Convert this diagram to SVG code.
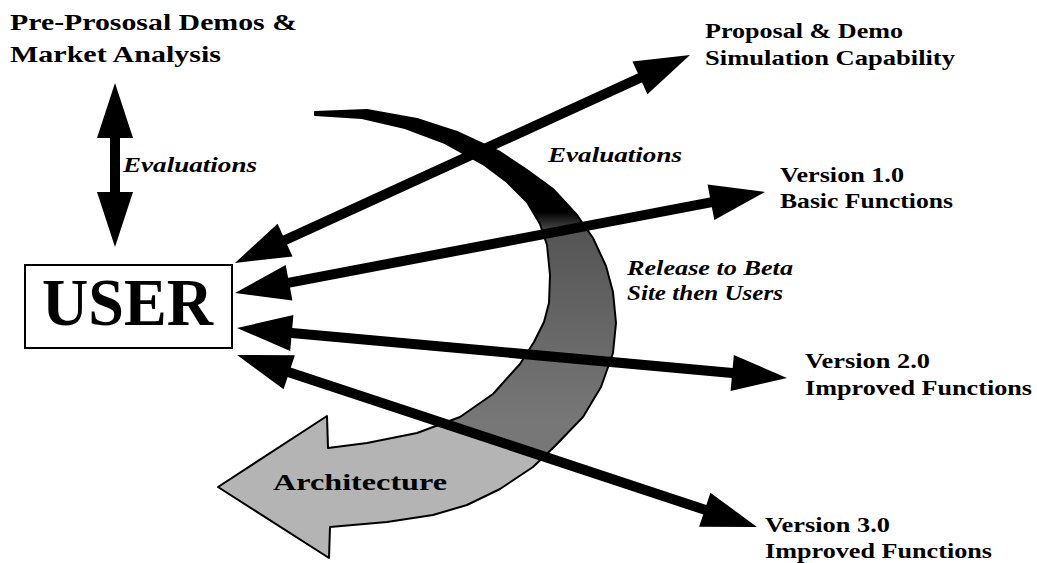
<svg xmlns="http://www.w3.org/2000/svg" width="1037" height="563" viewBox="0 0 1037 563">
<style>
.lbl{font-family:"Liberation Serif","Times New Roman",serif;font-weight:bold;font-size:21px;fill:#000}
.big{font-family:"Liberation Serif","Times New Roman",serif;font-weight:bold;font-size:23px;fill:#000}
.it{font-family:"Liberation Serif","Times New Roman",serif;font-weight:bold;font-style:italic;font-size:22px;fill:#000}
.shaft{stroke:#000;stroke-width:10;fill:none;marker-start:url(#head);marker-end:url(#head)}
</style>
<defs>
<marker id="head" markerUnits="userSpaceOnUse" markerWidth="60" markerHeight="40" viewBox="0 -20 56 40" refX="25" refY="0" orient="auto-start-reverse">
<path d="M0,-18 L55,0 L0,18 Z" fill="#000"/>
</marker>
<linearGradient id="dark" gradientUnits="userSpaceOnUse" x1="0" y1="212" x2="0" y2="420">
<stop offset="0" stop-color="#000"/>
<stop offset="0.1" stop-color="#555"/>
<stop offset="1" stop-color="#777"/>
</linearGradient>
<clipPath id="upper">
<polygon points="0,0 1037,0 1037,620 0,277"/>
</clipPath>
<path id="archShape" d="M315,112 L367,110 L417,119 L457,132 L500,152 L527,170 L553,189 L577,215 L593,238 L606,266 L613,292 L616,323 L613,353 L601,387 L583,417 L555,446 L533,467 L500,489 L467,505 L433,515 L387,522 L330,527 L329,558 L218,487 L327,416 L328,448 L367,443 L417,433 L460,417 L493,394 L520,364 L534,342 L544,322 L549,303 L550,275 L547,245 L540,224 L527,202 L507,182 L483,164 L445,143 L405,128 L362,118 L315,115 Z"/>
</defs>

<g id="architecture">
<use href="#archShape" fill="#b4b4b4"/>
<use href="#archShape" fill="url(#dark)" clip-path="url(#upper)"/>
<use href="#archShape" fill="none" stroke="#000" stroke-width="2" stroke-linejoin="round"/>
<text class="big" x="273" y="490" font-size="30" textLength="174" lengthAdjust="spacingAndGlyphs">Architecture</text>
</g>

<g id="connectors">
<line class="shaft" x1="115" y1="113" x2="115" y2="217"/>
<line class="shaft" x1="262.3" y1="250.5" x2="662.7" y2="67.5"/>
<line class="shaft" x1="264.5" y1="287.4" x2="735.5" y2="197.6"/>
<line class="shaft" x1="266.9" y1="330.7" x2="757.1" y2="375.3"/>
<line class="shaft" x1="265.5" y1="364.4" x2="728.5" y2="517.6"/>
</g>

<g id="user">
<rect x="25" y="265" width="207" height="83" fill="#fff" stroke="#000" stroke-width="2"/>
<text x="42" y="325" font-family="'Liberation Serif','Times New Roman',serif" font-weight="bold" font-size="68" textLength="171" lengthAdjust="spacingAndGlyphs">USER</text>
</g>

<g id="premarket">
<text class="big" x="10" y="30" textLength="287" lengthAdjust="spacingAndGlyphs">Pre-Prososal Demos &amp;</text>
<text class="big" x="10" y="62" textLength="211" lengthAdjust="spacingAndGlyphs">Market Analysis</text>
</g>

<g id="eval-left">
<text class="it" x="123" y="172" textLength="134" lengthAdjust="spacingAndGlyphs">Evaluations</text>
</g>

<g id="eval-right">
<text class="it" x="548" y="162" textLength="134" lengthAdjust="spacingAndGlyphs">Evaluations</text>
</g>

<g id="release">
<text class="it" x="627" y="275" textLength="166" lengthAdjust="spacingAndGlyphs">Release to Beta</text>
<text class="it" x="627" y="300" textLength="156" lengthAdjust="spacingAndGlyphs">Site then Users</text>
</g>

<g id="proposal">
<text class="lbl" x="705" y="38" textLength="198" lengthAdjust="spacingAndGlyphs">Proposal &amp; Demo</text>
<text class="lbl" x="705" y="65" textLength="250" lengthAdjust="spacingAndGlyphs">Simulation Capability</text>
</g>

<g id="v1">
<text class="lbl" x="780" y="182" textLength="124" lengthAdjust="spacingAndGlyphs">Version 1.0</text>
<text class="lbl" x="780" y="208" textLength="173" lengthAdjust="spacingAndGlyphs">Basic Functions</text>
</g>

<g id="v2">
<text class="lbl" x="805" y="368" textLength="125" lengthAdjust="spacingAndGlyphs">Version 2.0</text>
<text class="lbl" x="805" y="395" textLength="227" lengthAdjust="spacingAndGlyphs">Improved Functions</text>
</g>

<g id="v3">
<text class="lbl" x="765" y="532" textLength="125" lengthAdjust="spacingAndGlyphs">Version 3.0</text>
<text class="lbl" x="765" y="558" textLength="227" lengthAdjust="spacingAndGlyphs">Improved Functions</text>
</g>
</svg>
